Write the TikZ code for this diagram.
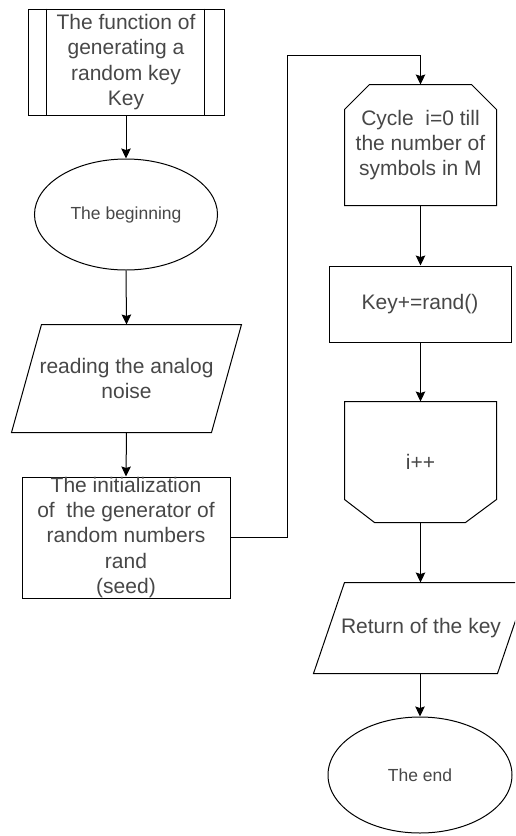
\documentclass[tikz,border=0pt]{standalone}
\usepackage{fontspec}
\setmainfont{Liberation Sans}
\usetikzlibrary{shapes.geometric,arrows.meta,calc}
\begin{document}
\begin{tikzpicture}[x=1pt,y=-1pt,
  line width=1pt,
  big/.style={font=\fontsize{21}{25.2}\selectfont, text=black!72},
  small/.style={font=\fontsize{17.5}{21}\selectfont, text=black!72},
  box/.style={rectangle, draw=none, inner sep=0pt, align=center},
  rbox/.style={rectangle, draw, inner sep=0pt, align=center},
  oval/.style={ellipse, draw, inner sep=0pt, align=center},
  arr/.style={-{Stealth[length=10pt,width=9.5pt,inset=1.5pt]}}
]
\useasboundingbox (0,0) rectangle (515,836);
\clip (0,0) rectangle (515,836);

% left column
\node[rbox,big,minimum width=196pt,minimum height=106pt] (func) at (126,62)
  {The function of\\generating a\\random key\\Key};
\draw ($(func.north west)+(19,0)$) -- ($(func.south west)+(19,0)$);
\draw ($(func.north east)+(-20,0)$) -- ($(func.south east)+(-20,0)$);

\node[oval,small,minimum width=183pt,minimum height=111pt] (begin) at (126,214.5)
  {The beginning};

\node[box,big,minimum width=229pt,minimum height=107pt] (read) at (126.5,378.5)
  {reading the analog\\noise};
\draw ($(read.north west)+(30,0)$) -- (read.north east)
  -- ($(read.south east)+(-30,0)$) -- (read.south west) -- cycle;

\node[rbox,big,minimum width=208pt,minimum height=121pt] (init) at (126,537.5)
  {The initialization\\of\ \ the generator of\\random numbers\\rand\\(seed)};

% right column
\node[box,big,minimum width=151pt,minimum height=120pt] (cyc) at (420.5,145)
  {Cycle\ \ i=0 till\\the number of\\symbols in M};
\draw ($(cyc.north west)+(25,0)$) -- ($(cyc.north east)+(-25,0)$)
  -- ($(cyc.north east)+(0,25)$) -- (cyc.south east) -- (cyc.south west)
  -- ($(cyc.north west)+(0,25)$) -- cycle;

\node[rbox,big,minimum width=182pt,minimum height=76pt] (key) at (420,304)
  {Key+=rand()};

\node[box,big,minimum width=151pt,minimum height=120pt] (inc) at (420.5,462)
  {i++};
\draw (inc.north west) -- (inc.north east) -- ($(inc.south east)+(0,-23)$)
  -- ($(inc.south east)+(-31,0)$) -- ($(inc.south west)+(30,0)$)
  -- ($(inc.south west)+(0,-23)$) -- cycle;

\node[box,big,minimum width=214pt,minimum height=90pt] (ret) at (421,628)
  {Return of the key};
\draw ($(ret.north west)+(31,0)$) -- (ret.north east)
  -- ($(ret.south east)+(-31,0)$) -- (ret.south west) -- cycle;

\node[oval,small,minimum width=184pt,minimum height=116pt] (end) at (420,775)
  {The end};

% connectors
\coordinate (lp) at (287,55);
\draw[arr] (func.south) -- (begin.north);
\draw[arr] (begin.south) -- (read.north);
\draw[arr] (read.south) -- (init.north);
\draw[arr] (init.east) -| (lp) -| (cyc.north);
\draw[arr] (cyc.south) -- (cyc.south |- key.north);
\draw[arr] (key.south -| inc.north) -- (inc.north);
\draw[arr] (inc.south) -- (inc.south |- ret.north);
\draw[arr] (ret.south -| end.north) -- (end.north);
\end{tikzpicture}
\end{document}
